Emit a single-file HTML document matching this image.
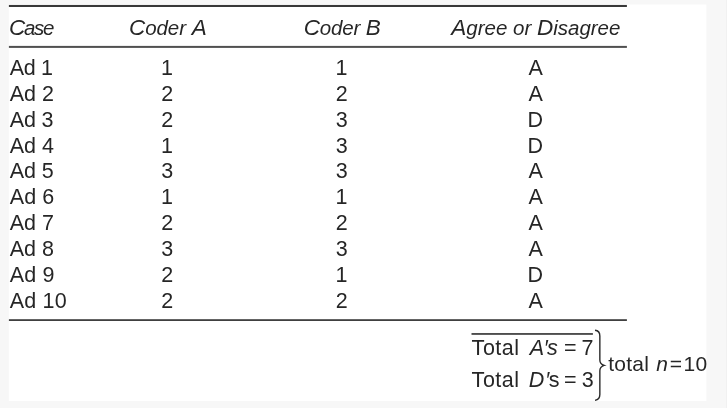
<!DOCTYPE html>
<html><head><meta charset="utf-8">
<style>
html,body{margin:0;padding:0;}
body{width:727px;height:408px;background:#f7f7f7;position:relative;overflow:hidden;font-family:"Liberation Sans",sans-serif;color:#262626;}
.t{position:absolute;white-space:nowrap;font-size:21px;line-height:24px;height:24px;}
.i{font-style:italic;}
</style></head><body>
<svg style="position:absolute;left:0;top:0" width="727" height="408" viewBox="0 0 727 408">
<rect x="726" y="0" width="1" height="408" fill="#f1f1f1"/>
<rect x="8.8" y="4.5" width="697.6" height="396.4" fill="#fff"/>
<rect x="8.9" y="4.95" width="618" height="2.05" fill="#383838"/>
<rect x="8.9" y="45.9" width="618" height="2" fill="#505050"/>
<rect x="8.9" y="319.2" width="618" height="1.8" fill="#404040"/>
<rect x="471.5" y="333.1" width="121.4" height="1.7" fill="#3a3a3a"/>
</svg>
<div class="t i" style="left:8.99px;top:16.00px;font-size:20.5px;letter-spacing:-1.30px;"><span style="font-size:22.5px">C</span>ase</div>
<div class="t i" style="left:128.99px;top:16.00px;font-size:20.5px;letter-spacing:-0.06px;"><span style="font-size:22.5px">C</span>oder <span style="font-size:22.5px">A</span></div>
<div class="t i" style="left:303.69px;top:16.00px;font-size:20.5px;letter-spacing:-0.14px;"><span style="font-size:22.5px">C</span>oder <span style="font-size:22.5px">B</span></div>
<div class="t i" style="left:451.28px;top:16.00px;font-size:20.5px;"><span style="font-size:22.5px">A</span>gree or <span style="font-size:22.5px">D</span>isagree</div>
<div class="t" style="left:9.73px;top:56.00px;font-size:21.5px;letter-spacing:-0.33px;">Ad 1</div>
<div class="t" style="left:161.03px;top:56.00px;font-size:21.5px;">1</div>
<div class="t" style="left:335.43px;top:56.00px;font-size:21.5px;">1</div>
<div class="t" style="left:528.57px;top:56.00px;font-size:21.5px;">A</div>
<div class="t" style="left:9.73px;top:82.00px;font-size:21.5px;letter-spacing:-0.01px;">Ad 2</div>
<div class="t" style="left:161.33px;top:82.00px;font-size:21.5px;">2</div>
<div class="t" style="left:335.73px;top:82.00px;font-size:21.5px;">2</div>
<div class="t" style="left:528.57px;top:82.00px;font-size:21.5px;">A</div>
<div class="t" style="left:9.73px;top:108.00px;font-size:21.5px;letter-spacing:-0.15px;">Ad 3</div>
<div class="t" style="left:161.33px;top:108.00px;font-size:21.5px;">2</div>
<div class="t" style="left:335.68px;top:108.00px;font-size:21.5px;">3</div>
<div class="t" style="left:527.59px;top:108.00px;font-size:21.5px;">D</div>
<div class="t" style="left:9.73px;top:134.00px;font-size:21.5px;">Ad 4</div>
<div class="t" style="left:161.03px;top:134.00px;font-size:21.5px;">1</div>
<div class="t" style="left:335.68px;top:134.00px;font-size:21.5px;">3</div>
<div class="t" style="left:527.59px;top:134.00px;font-size:21.5px;">D</div>
<div class="t" style="left:9.73px;top:159.00px;font-size:21.5px;letter-spacing:-0.09px;">Ad 5</div>
<div class="t" style="left:161.28px;top:159.00px;font-size:21.5px;">3</div>
<div class="t" style="left:335.68px;top:159.00px;font-size:21.5px;">3</div>
<div class="t" style="left:528.57px;top:159.00px;font-size:21.5px;">A</div>
<div class="t" style="left:9.73px;top:185.00px;font-size:21.5px;letter-spacing:0.09px;">Ad 6</div>
<div class="t" style="left:161.03px;top:185.00px;font-size:21.5px;">1</div>
<div class="t" style="left:335.43px;top:185.00px;font-size:21.5px;">1</div>
<div class="t" style="left:528.57px;top:185.00px;font-size:21.5px;">A</div>
<div class="t" style="left:9.73px;top:211.00px;font-size:21.5px;letter-spacing:-0.01px;">Ad 7</div>
<div class="t" style="left:161.33px;top:211.00px;font-size:21.5px;">2</div>
<div class="t" style="left:335.73px;top:211.00px;font-size:21.5px;">2</div>
<div class="t" style="left:528.57px;top:211.00px;font-size:21.5px;">A</div>
<div class="t" style="left:9.73px;top:237.00px;font-size:21.5px;letter-spacing:0.02px;">Ad 8</div>
<div class="t" style="left:161.28px;top:237.00px;font-size:21.5px;">3</div>
<div class="t" style="left:335.68px;top:237.00px;font-size:21.5px;">3</div>
<div class="t" style="left:528.57px;top:237.00px;font-size:21.5px;">A</div>
<div class="t" style="left:9.73px;top:263.00px;font-size:21.5px;letter-spacing:0.19px;">Ad 9</div>
<div class="t" style="left:161.33px;top:263.00px;font-size:21.5px;">2</div>
<div class="t" style="left:335.43px;top:263.00px;font-size:21.5px;">1</div>
<div class="t" style="left:527.59px;top:263.00px;font-size:21.5px;">D</div>
<div class="t" style="left:9.73px;top:289.00px;font-size:21.5px;letter-spacing:0.18px;">Ad 10</div>
<div class="t" style="left:161.33px;top:289.00px;font-size:21.5px;">2</div>
<div class="t" style="left:335.73px;top:289.00px;font-size:21.5px;">2</div>
<div class="t" style="left:528.57px;top:289.00px;font-size:21.5px;">A</div>
<div class="t" style="left:471.61px;top:336.00px;font-size:21.5px;letter-spacing:0.52px;">Total</div>
<div class="t i" style="left:529.77px;top:336.00px;font-size:21.5px;">A</div>
<div class="t" style="left:544.73px;top:336.00px;font-size:21.5px;">′</div>
<div class="t i" style="left:546.98px;top:336.00px;font-size:21.5px;">s</div>
<div class="t" style="left:564.08px;top:336.00px;font-size:21.5px;">=</div>
<div class="t" style="left:581.61px;top:336.00px;font-size:21.5px;">7</div>
<div class="t" style="left:471.61px;top:368.00px;font-size:21.5px;letter-spacing:0.52px;">Total</div>
<div class="t i" style="left:528.69px;top:368.00px;font-size:21.5px;">D</div>
<div class="t" style="left:546.13px;top:368.00px;font-size:21.5px;">′</div>
<div class="t" style="left:548.69px;top:368.00px;font-size:21.5px;">s</div>
<div class="t" style="left:564.08px;top:368.00px;font-size:21.5px;">=</div>
<div class="t" style="left:581.63px;top:368.00px;font-size:21.5px;">3</div>
<div class="t" style="left:608.27px;top:352.00px;font-size:21px;letter-spacing:0.22px;">total</div>
<div class="t i" style="left:656.20px;top:352.00px;font-size:21px;">n</div>
<div class="t" style="left:669.81px;top:352.00px;font-size:21px;">=</div>
<div class="t" style="left:683.50px;top:352.00px;font-size:21px;letter-spacing:0.25px;">10</div>
<svg style="position:absolute;left:592px;top:327px" width="16" height="76" viewBox="592 327 16 76">
<path d="M595 330.3 C598 330.6 599.85 332.3 599.85 336 L599.85 360 C599.85 363 601.5 364.6 604.2 365.4 C601.5 366.2 599.85 367.8 599.85 370.8 L599.85 394.6 C599.85 398.3 598 399.9 595 400.4" fill="none" stroke="#2a2a2a" stroke-width="1.4"/>
</svg>
</body></html>
